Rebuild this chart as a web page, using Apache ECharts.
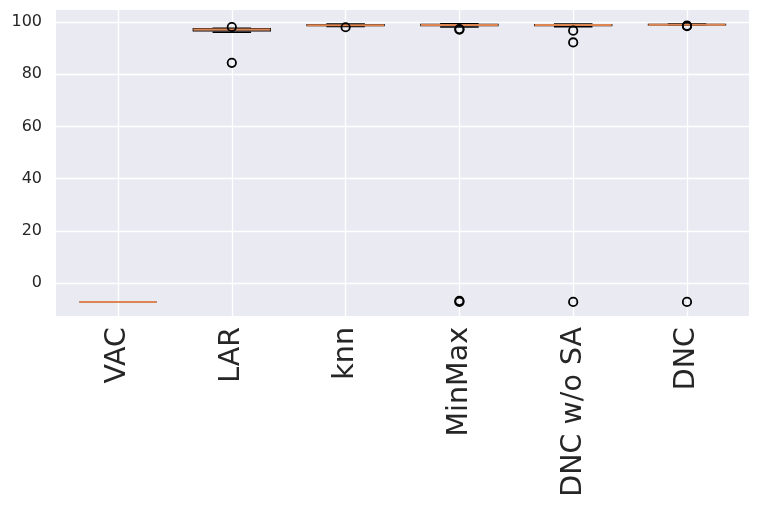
<!DOCTYPE html>
<html>
<head>
<meta charset="utf-8">
<script src="https://cdn.jsdelivr.net/npm/echarts@6/dist/echarts.min.js"></script>
<style>html,body{margin:0;padding:0;background:#fff;}#c{width:761px;height:505px;}</style>
</head>
<body>
<div id="c"></div>
<script>
const categories = ['VAC', 'LAR', 'knn', 'MinMax', 'DNC w/o SA', 'DNC'];
const whiskerLow  = [-7.1, 96.0, 98.2, 98.0, 98.1, 98.7];
const q1          = [-7.1, 96.5, 98.5, 98.5, 98.5, 98.8];
const median      = [-7.1, 97.0, 98.7, 98.8, 98.8, 98.9];
const q3          = [-7.1, 97.4, 98.9, 99.0, 98.9, 99.0];
const whiskerHigh = [-7.1, 97.6, 99.2, 99.3, 99.2, 99.2];
const outliers = [
  [],
  [98.0, 84.3],
  [97.9],
  [97.2, 97.0, -6.7, -7.1],
  [96.6, 92.1, -7.1],
  [98.5, 98.3, -7.1]
];
const yTicks = [0, 20, 40, 60, 80, 100];
const xTicks = categories.map((c, i) => i + 1);

const boxData = categories.map((c, i) => [i + 1, whiskerLow[i], q1[i], median[i], q3[i], whiskerHigh[i]]);
const outlierData = [];
outliers.forEach((arr, i) => arr.forEach(v => outlierData.push([i + 1, v])));

function renderBox(params, api) {
  const xv = api.value(0);
  const w = api.size([1, 0])[0] * 0.677;
  const x = api.coord([xv, 0])[0];
  const yl = api.coord([xv, api.value(1)])[1];
  const yq1 = api.coord([xv, api.value(2)])[1];
  const ym = api.coord([xv, api.value(3)])[1];
  const yq3 = api.coord([xv, api.value(4)])[1];
  const yh = api.coord([xv, api.value(5)])[1];
  const black = {stroke: '#000', lineWidth: 1.3, fill: null};
  return {
    type: 'group',
    children: [
      {type: 'line', shape: {x1: x, y1: yl, x2: x, y2: yq1}, style: black},
      {type: 'line', shape: {x1: x, y1: yq3, x2: x, y2: yh}, style: black},
      {type: 'line', shape: {x1: x - w / 4, y1: yl, x2: x + w / 4, y2: yl}, style: black},
      {type: 'line', shape: {x1: x - w / 4, y1: yh, x2: x + w / 4, y2: yh}, style: black},
      {type: 'rect', shape: {x: x - w / 2, y: yq3, width: w, height: Math.max(yq1 - yq3, 0)}, style: black},
      {type: 'line', shape: {x1: x - w / 2, y1: ym, x2: x + w / 2, y2: ym}, style: {stroke: '#dd8452', lineWidth: 2}}
    ]
  };
}

const chart = echarts.init(document.getElementById('c'), null, {renderer: 'canvas'});
chart.setOption({
  animation: false,
  backgroundColor: '#ffffff',
  grid: {left: 56, right: 12, top: 10, bottom: 189, show: true, backgroundColor: '#eaeaf2', borderWidth: 0},
  xAxis: {
    type: 'value', min: 0.455, max: 6.545,
    axisLine: {show: false},
    axisTick: {show: false, customValues: xTicks},
    axisLabel: {
      customValues: xTicks, rotate: 90, margin: 11,
      formatter: v => categories[Math.round(v) - 1] || '',
      fontFamily: 'DejaVu Sans', fontSize: 28.5, color: '#262626'
    },
    splitLine: {show: true, lineStyle: {color: '#ffffff', width: 1.3}}
  },
  yAxis: {
    type: 'value', min: -12.5, max: 104.5,
    axisLine: {show: false},
    axisTick: {show: false, customValues: yTicks},
    axisLabel: {customValues: yTicks, margin: 14, fontFamily: 'DejaVu Sans', fontSize: 16, color: '#262626'},
    splitLine: {show: true, lineStyle: {color: '#ffffff', width: 1.3}}
  },
  series: [
    {
      type: 'custom', renderItem: renderBox, data: boxData,
      encode: {x: 0, y: [1, 2, 3, 4, 5]}, z: 2
    },
    {
      type: 'scatter', data: outlierData, symbol: 'circle', symbolSize: 8.4,
      itemStyle: {color: 'rgba(0,0,0,0)', borderColor: '#000000', borderWidth: 1.8, opacity: 1}, z: 3
    }
  ]
});
</script>
</body>
</html>
